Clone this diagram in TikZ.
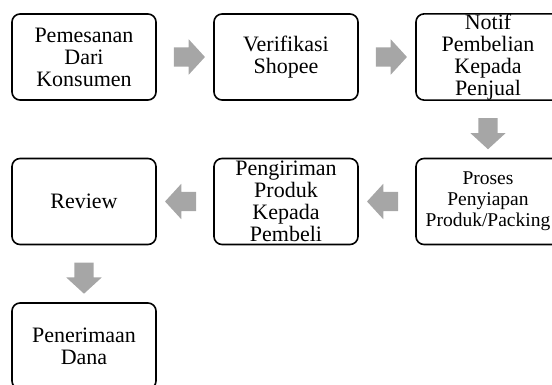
\documentclass[tikz,border=0pt]{standalone}
\usepackage{fontspec}
\setmainfont{Liberation Serif}
\usetikzlibrary{shapes.arrows}
\definecolor{abu}{RGB}{166,166,166}

\begin{document}
\begin{tikzpicture}[x=1pt,y=-1pt,
	kotak/.style={draw, line width=1.6pt, rounded corners=8pt, minimum width=144pt, minimum height=86pt, inner sep=0pt, align=center, font=\fontsize{22}{22}\selectfont},
	panah/.style={single arrow, fill=abu, draw=none, minimum height=31pt, inner xsep=0pt, inner ysep=9.5pt, single arrow head extend=8pt, single arrow tip angle=95, sloped, allow upside down}]

	\useasboundingbox (0,0) rectangle (552,385);
	\clip (0,0) rectangle (552,385);

% 1. Baris atas
\node[kotak] (pesan) at (84,57) {Pemesanan\\Dari\\Konsumen};
\node[kotak] (verif) at (286,57) {Verifikasi\\Shopee};
\node[kotak] (notif) at (488,57) {Notif\\Pembelian\\Kepada\\Penjual};

% 2. Baris tengah
\node[kotak, font=\fontsize{19.5}{21}\selectfont] (proses) at (488,201.5) {Proses\\Penyiapan\\Produk/Packing};
\node[kotak] (kirim) at (286,201.5) {Pengiriman\\Produk\\Kepada\\Pembeli};
\node[kotak] (review) at (84,201.5) {Review};

% 3. Baris bawah
\node[kotak] (dana) at (84,346) {Penerimaan\\Dana};

		\foreach \a/\b in {pesan/verif, verif/notif, notif/proses, proses/kirim, kirim/review, review/dana} {
			\path (\a) -- node[panah] {} (\b);
		}
	\end{tikzpicture}
\end{document}
